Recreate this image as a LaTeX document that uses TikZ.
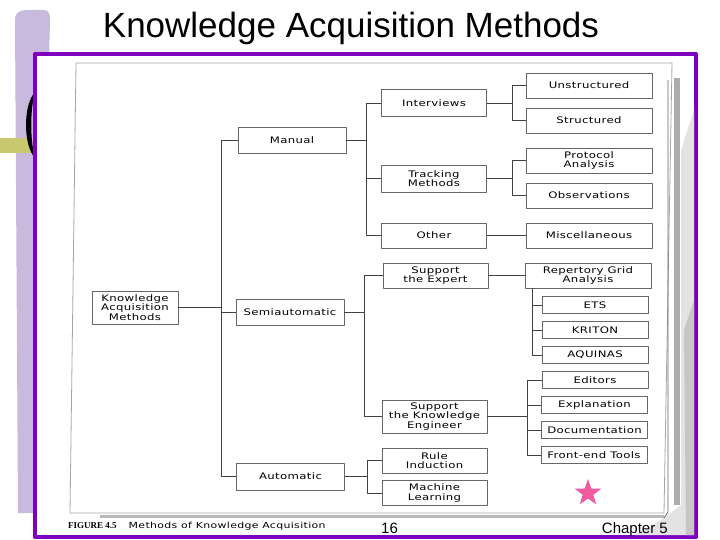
\documentclass[tikz,border=0pt]{standalone}
\usepackage{fontspec}
\setmainfont{Liberation Sans}
\newfontfamily\boxfont[FakeStretch=1.3,LetterSpace=4]{DejaVu Sans}
\newfontfamily\capserif{Liberation Serif}
\usetikzlibrary{shapes.geometric}
\definecolor{framepurple}{RGB}{128,0,192}
\definecolor{lavender}{RGB}{200,186,220}
\definecolor{olivebar}{RGB}{200,200,110}
\definecolor{starpink}{RGB}{240,90,160}
\tikzset{
  box/.style={draw=black!60, line width=.7bp, align=center, inner sep=0pt,
    font=\boxfont\fontsize{9bp}{9.2bp}\selectfont},
  rootbox/.style={box, minimum width=86bp, minimum height=33bp},
  kindbox/.style={box, minimum width=108bp, minimum height=26bp},
  waybox/.style={box, minimum width=105bp, minimum height=26bp},
  leafbox/.style={box, minimum width=126bp, minimum height=25bp},
  toolbox/.style={box, minimum width=106bp, minimum height=17bp},
  link/.style={draw=black!75, line width=.8bp}
}

\begin{document}
\begin{tikzpicture}[x=1bp, y=-1bp, line join=round]
  \useasboundingbox (0,0) rectangle (720,540);
  \fill[lavender] (15,20) .. controls (15,12) and (20,10) .. (28,10) -- (44,10)
    .. controls (49,10) and (50,14) .. (50,20) -- (38,513) -- (18,513) -- cycle;
  \fill[olivebar] (0,138) rectangle (34,153);
  \fill[black] (35,92) .. controls (23,105) and (23,145) .. (35,158)
    .. controls (30,140) and (30,110) .. (35,92);
  \draw[framepurple, line width=4bp, fill=white] (35,54) rectangle (696,537);

  \fill[gray!22] (681,150) -- (694,110) -- (694,535) -- (635,535) -- (664,518) -- (681,505) -- cycle;
  \fill[gray!45] (684,330) -- (694,300) -- (694,535) -- (686,535) -- cycle;
  \fill[gray!65] (674,78) rectangle (680,505);
  \draw[gray!70, line width=.8bp] (76,63) -- (672,63) -- (664,513) -- (70,513) -- cycle;
  \draw[gray!55, line width=3bp] (100,516) -- (664,516);
  \draw[black!60, line width=.8bp] (668,80) -- (668,512) -- (664,518);

  \node[font=\fontsize{35bp}{40bp}\selectfont, anchor=base] (title) at (351,38) {Knowledge Acquisition Methods};

  \node[rootbox] (root) at (135,307.5) {Knowledge\\Acquisition\\Methods};
  \node[kindbox] (manual) at (292,140.5) {Manual};
  \node[kindbox] (semi) at (290,312.5) {Semiautomatic};
  \node[kindbox, minimum height=27bp] (auto) at (290.5,476.5) {Automatic};

  \node[waybox, minimum height=27bp] (interviews) at (434,103) {Interviews};
  \node[waybox, minimum height=27bp] (tracking) at (434,178.5) {Tracking\\Methods};
  \node[waybox, minimum height=25bp] (other) at (434,235.5) {Other};
  \node[waybox, minimum height=25bp] (supexp) at (435.5,275.5) {Support\\the Expert};
  \node[waybox, minimum height=33bp] (supke) at (434.5,416.5) {Support\\the Knowledge\\Engineer};
  \node[waybox, minimum height=25bp] (rule) at (434.5,460.5) {Rule\\Induction};
  \node[waybox, minimum height=25bp] (mlearn) at (434.5,493) {Machine\\Learning};

  \node[leafbox] (unstr) at (589,85.5) {Unstructured};
  \node[leafbox] (str) at (589,120.5) {Structured};
  \node[leafbox] (protocol) at (589,160.5) {Protocol\\Analysis};
  \node[leafbox] (obs) at (589,195.5) {Observations};
  \node[leafbox] (misc) at (589,235.5) {Miscellaneous};
  \node[leafbox] (rep) at (588,275.5) {Repertory Grid\\Analysis};

  \node[toolbox] (ets) at (595,305) {ETS};
  \node[toolbox] (kriton) at (595,330) {KRITON};
  \node[toolbox] (aquinas) at (595,355) {AQUINAS};
  \node[toolbox] (editors) at (595,380) {Editors};
  \node[toolbox] (explan) at (594.5,405) {Explanation};
  \node[toolbox] (docu) at (594.5,430) {Documentation};
  \node[toolbox] (frontend) at (594,455) {Front-end Tools};

  \coordinate (tA) at (221,0);
  \coordinate (tB) at (366,0);
  \coordinate (tC) at (364,0);
  \coordinate (tD) at (367,0);
  \coordinate (tE) at (512,0);
  \coordinate (tF) at (532,0);
  \coordinate (tG) at (527,0);

  \draw[link] (root.east) -- (root.east -| tA);
  \draw[link] (manual.west) -| (tA |- auto.west) -- (auto.west);
  \draw[link] (semi.west) -- (semi.west -| tA);

  \draw[link] (manual.east) -- (manual.east -| tB);
  \draw[link] (interviews.west) -| (tB |- other.west) -- (other.west);
  \draw[link] (tracking.west) -- (tracking.west -| tB);

  \draw[link] (semi.east) -- (semi.east -| tC);
  \draw[link] (supexp.west) -| (tC |- supke.west) -- (supke.west);

  \draw[link] (auto.east) -- (auto.east -| tD);
  \draw[link] (rule.west) -| (tD |- mlearn.west) -- (mlearn.west);

  \draw[link] (interviews.east) -- (interviews.east -| tE);
  \draw[link] (unstr.west) -| (tE |- str.west) -- (str.west);
  \draw[link] (tracking.east) -- (tracking.east -| tE);
  \draw[link] (protocol.west) -| (tE |- obs.west) -- (obs.west);
  \draw[link] (other.east) -- (misc.west);
  \draw[link] (supexp.east) -- (rep.west);

  \draw[link] (rep.south -| tF) -- (tF |- aquinas.west) -- (aquinas.west);
  \draw[link] (ets.west) -- (ets.west -| tF);
  \draw[link] (kriton.west) -- (kriton.west -| tF);

  \draw[link] (supke.east) -- (supke.east -| tG);
  \draw[link] (editors.west) -| (tG |- frontend.west) -- (frontend.west);
  \draw[link] (explan.west) -- (explan.west -| tG);
  \draw[link] (docu.west) -- (docu.west -| tG);

  \node[anchor=base west, inner sep=0pt] (caption) at (68,528)
    {{\capserif\bfseries\fontsize{9bp}{10bp}\selectfont FIGURE 4.5}\hspace{12bp}{\boxfont\fontsize{8.4bp}{9bp}\selectfont Methods of Knowledge Acquisition}};
  \node[anchor=base west, inner sep=0pt, font=\fontsize{15bp}{17bp}\selectfont] (page) at (381,533) {16};
  \node[anchor=base east, inner sep=0pt, font=\fontsize{15bp}{17bp}\selectfont] (chapter) at (668,533) {Chapter 5};
  \node[star, star points=5, star point ratio=2.5, fill=starpink, minimum size=28bp, inner sep=0pt] (mark) at (588,493) {};
\end{tikzpicture}
\end{document}
